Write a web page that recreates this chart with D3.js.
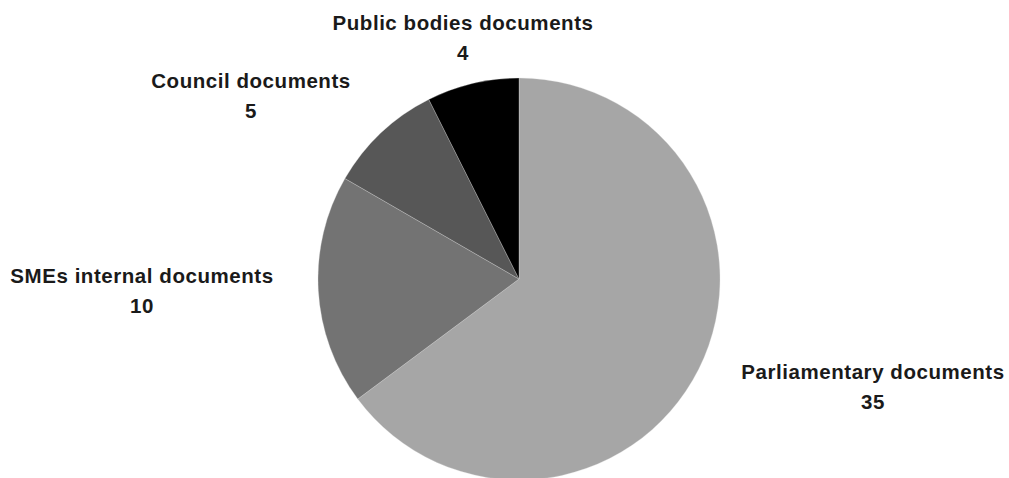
<!DOCTYPE html>
<html lang="en">
<head>
  <meta charset="UTF-8">
  <title>Documents by source</title>
  <script src="https://d3js.org/d3.v7.min.js"></script>
  <style>
    body { margin: 0; background: #fff; }
    svg { display: block; }
    .label { font-family: "Liberation Sans", Arial, sans-serif; font-weight: bold; font-size: 20.5px; fill: #1a1a1a; }
  </style>
</head>
<body>
  <div id="chart"></div>
  <script>
    // Data
    const categories = ["Parliamentary documents", "SMEs internal documents", "Council documents", "Public bodies documents"];
    const values = [35, 10, 5, 4];

    const width = 1009;
    const height = 478;
    const center = { x: 519, y: 279 };
    const radius = 201;

    // Colours for each slice (same order as categories)
    const color = d3.scaleOrdinal()
      .domain(categories)
      .range(["#a6a6a6", "#737373", "#575757", "#000000"]);

    // label block centres (layout only)
    const labelPos = {
      "Parliamentary documents": [873, 379],
      "SMEs internal documents": [142, 283],
      "Council documents": [251, 88],
      "Public bodies documents": [463, 30]
    };

    const svg = d3.select("#chart")
      .append("svg")
      .attr("width", width)
      .attr("height", height);

    const data = categories.map((c, i) => ({ name: c, value: values[i] }));

    const pie = d3.pie()
      .value(d => d.value)
      .sort(null);

    const arc = d3.arc()
      .innerRadius(0)
      .outerRadius(radius);

    const g = svg.append("g")
      .attr("transform", `translate(${center.x},${center.y})`);

    g.selectAll("path")
      .data(pie(data))
      .join("path")
      .attr("d", arc)
      .attr("fill", d => color(d.data.name))
      .attr("stroke", "#dddddd")
      .attr("stroke-width", 0.3);

    // Labels
    const labels = svg.selectAll("text.label")
      .data(data)
      .join("text")
      .attr("class", "label")
      .attr("text-anchor", "middle")
      .attr("letter-spacing", "0.55px");

    labels.append("tspan")
      .attr("x", d => labelPos[d.name][0])
      .attr("y", d => labelPos[d.name][1])
      .text(d => d.name);

    labels.append("tspan")
      .attr("x", d => labelPos[d.name][0])
      .attr("y", d => labelPos[d.name][1] + 30)
      .text(d => d.value);
  </script>
</body>
</html>
